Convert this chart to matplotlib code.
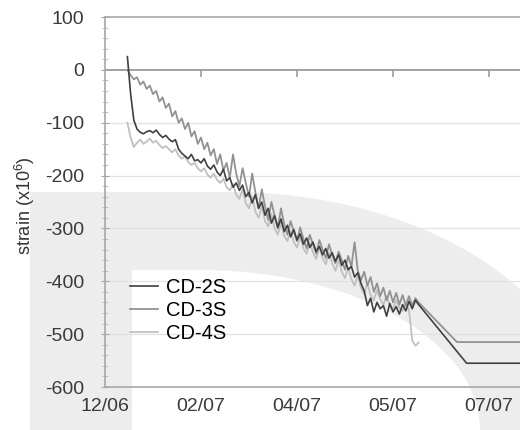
import numpy as np
import matplotlib
matplotlib.use("Agg")
import matplotlib.pyplot as plt
from matplotlib.path import Path
from matplotlib.patches import PathPatch

plt.rcParams['font.family'] = ['Liberation Sans', 'DejaVu Sans']
plt.rcParams['mathtext.fontset'] = 'custom'
plt.rcParams['mathtext.rm'] = 'Liberation Sans'
plt.rcParams['mathtext.it'] = 'Liberation Sans'
plt.rcParams['axes.unicode_minus'] = False

# days since start of record, one reading per day
days = np.arange(7, 99)

cd2s = [25, -45, -95, -112, -118, -121, -117, -115, -119, -114,
        -122, -128, -124, -131, -136, -132, -150, -158, -163, -168,
        -160, -172, -170, -176, -168, -182, -188, -180, -193, -200,
        -188, -210, -204, -222, -214, -228, -218, -240, -232, -252,
        -236, -262, -250, -275, -262, -290, -276, -298, -282, -306,
        -294, -316, -302, -322, -310, -330, -318, -336, -326, -344,
        -334, -350, -338, -356, -346, -362, -350, -370, -360, -378,
        -372, -392, -384, -404, -418, -446, -432, -458, -440, -452,
        -446, -466, -442, -458, -448, -462, -444, -456, -438, -452,
        -436, -444]
cd2s_tail_days = [113, 136]
cd2s_tail = [-555, -555]

cd3s = [0, -10, -18, -14, -28, -22, -36, -30, -46, -40,
        -60, -52, -72, -64, -88, -78, -100, -92, -112, -100,
        -126, -116, -140, -128, -150, -138, -162, -150, -178, -160,
        -190, -176, -204, -160, -196, -220, -186, -214, -240, -196,
        -232, -262, -226, -258, -284, -250, -276, -300, -262, -292,
        -312, -286, -306, -324, -298, -320, -338, -312, -330, -348,
        -322, -340, -356, -330, -350, -366, -344, -360, -378, -352,
        -372, -326, -380, -398, -382, -408, -392, -420, -404, -428,
        -412, -436, -418, -440, -422, -444, -426, -446, -428, -446,
        -432, -440]
cd3s_tail_days = [110, 136]
cd3s_tail = [-515, -515]

cd4s = [-100, -128, -146, -138, -132, -140, -136, -130, -138, -134,
        -142, -148, -144, -150, -156, -150, -162, -168, -164, -174,
        -180, -176, -186, -192, -186, -198, -204, -196, -208, -214,
        -206, -222, -228, -216, -236, -244, -226, -252, -262, -240,
        -268, -280, -258, -286, -296, -272, -300, -312, -290, -314,
        -324, -304, -326, -336, -316, -338, -348, -326, -346, -358,
        -336, -356, -368, -346, -366, -380, -360, -382, -394, -374,
        -396, -408, -390, -412, -424, -404, -426, -436, -416, -434,
        -444, -428, -446, -452, -436, -450, -456, -440, -454, -512,
        -522, -516]

tick_days = [0, 30, 60, 90, 120]
tick_labels = ['12/06', '02/07', '04/07', '05/07', '07/07']

W, H = 520, 430
fig = plt.figure(figsize=(W / 100, H / 100), dpi=100)


def px(x, y):
    return np.column_stack([np.asarray(x) / W, 1 - np.asarray(y) / H])


# light backdrop band behind the plot
t = np.linspace(np.pi / 2, 0, 60)
outer = np.vstack([px([30, 30, 230], [430, 192, 192]),
                   px(230 + 360 * np.cos(t), 430 - 238 * np.sin(t)),
                   px([590, 30], [430, 430])])
inner = np.vstack([px([132, 132, 200], [430, 270, 270]),
                   px(200 + 280 * np.cos(t), 430 - 160 * np.sin(t)),
                   px([480, 132], [430, 430])])
fig.add_artist(PathPatch(Path(outer), fc='#ededed', ec='none',
                         transform=fig.transFigure, zorder=-10))
fig.add_artist(PathPatch(Path(inner), fc='white', ec='none',
                         transform=fig.transFigure, zorder=-9))

ax = fig.add_axes([105 / W, 1 - 387 / H, 1 - 105 / W, 370 / H])
ax.set_facecolor('none')

ax.set_xlim(0, (W - 105) / 3.2)
ax.set_ylim(-600, 100)

for yv in range(-500, 0, 100):
    ax.axhline(yv, color='#e2e2e2', lw=0.9, zorder=0)
ax.axhline(0, color='#9a9a9a', lw=1.3, zorder=1)
ax.plot(tick_days[1:], [0] * 4, ls='none', marker=3, ms=5,
        mew=1.2, color='#9a9a9a', zorder=1)

ax.plot(list(days), cd4s, color='#c0c0c0', lw=1.3, label='CD-4S', zorder=3)
ax.plot(list(days) + cd3s_tail_days, cd3s + cd3s_tail, color='#929292',
        lw=1.3, label='CD-3S', zorder=4)
ax.plot(list(days) + cd2s_tail_days, cd2s + cd2s_tail, color='#404040',
        lw=1.2, label='CD-2S', zorder=5)

for s in ['top', 'left', 'bottom']:
    ax.spines[s].set_color('#a8a8a8')
    ax.spines[s].set_linewidth(1.2)
ax.spines['right'].set_visible(False)

ax.set_xticks(tick_days)
ax.set_xticklabels(tick_labels)
ax.set_yticks(range(-600, 101, 100))
ax.set_yticks(range(-600, 101, 20), minor=True)
ax.tick_params(axis='x', length=0, pad=8, labelsize=14, labelcolor='#3a3a3a')
ax.tick_params(axis='y', which='major', direction='inout', length=6,
               color='#a8a8a8', pad=12, labelsize=14, labelcolor='#3a3a3a')
ax.tick_params(axis='y', which='minor', direction='inout', length=4,
               color='#b8b8b8')

ax.set_ylabel('strain (x10$^{6}$)', fontsize=13, color='#333333')
ax.yaxis.set_label_coords(-0.163, 0.49)

h, l = ax.get_legend_handles_labels()
ax.legend(h[::-1], l[::-1], loc='upper left', frameon=False,
          bbox_to_anchor=(130 / W, 1 - 278 / H), bbox_transform=fig.transFigure,
          fontsize=14.5, handlelength=1.4, handletextpad=0.4,
          labelspacing=0.2, borderpad=0, borderaxespad=0)

fig.savefig('out.png', dpi=100)
